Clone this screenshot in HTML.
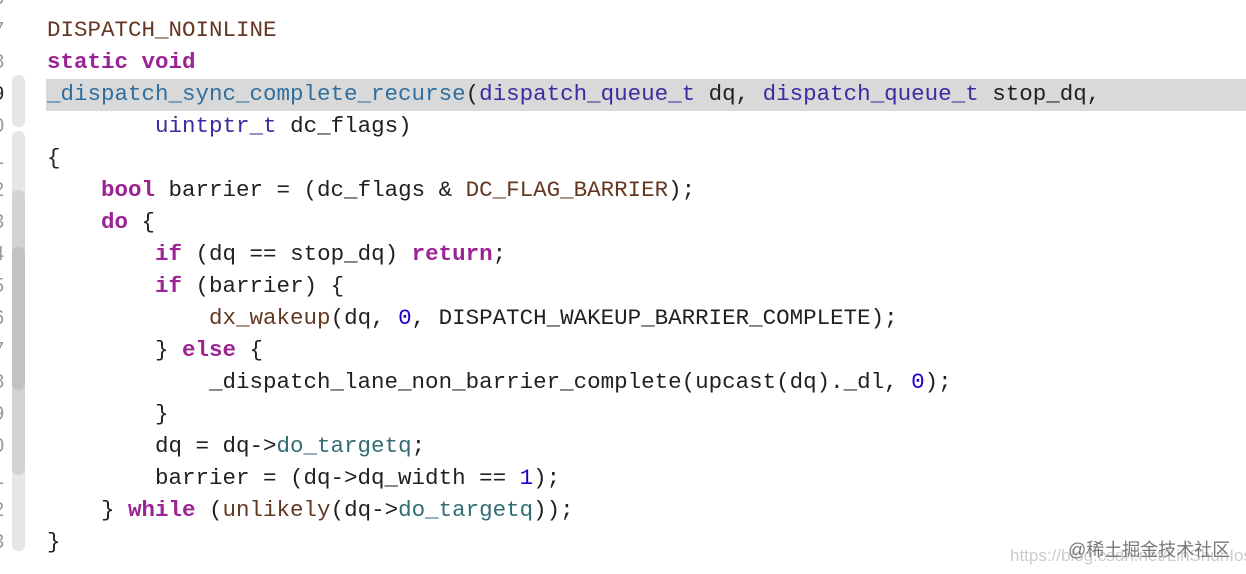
<!DOCTYPE html>
<html><head><meta charset="utf-8"><style>
body{margin:0;width:1246px;height:574px;background:#fff;position:relative;overflow:hidden;font-family:"Liberation Mono",monospace;}
.code{position:absolute;left:47px;top:14px;font-size:22.5px;line-height:32px;color:#1f1f24;white-space:pre;}
.hl{position:absolute;left:46px;top:79px;width:1200px;height:32px;background:#d9d9d9;}
.k{color:#9b2393;font-weight:bold}
.b{color:#643820}
.t{color:#3a2ba0}
.f{color:#2f6f9f}
.m{color:#326d74}
.n{color:#1c00cf}
.g{position:absolute;left:-7px;top:-18px;font-size:20px;line-height:32px;color:#999;font-family:"Liberation Sans",sans-serif;white-space:pre;}
.r{position:absolute;left:12px;width:13px;}
.wm{position:absolute;left:1068px;top:536px;font-size:18px;color:#777;font-family:"Liberation Sans","Noto Sans CJK SC",sans-serif;}
.wm2{position:absolute;left:1010px;top:546px;font-size:17px;color:#ccc;font-family:"Liberation Sans",sans-serif;}
</style></head><body>
<div class="hl"></div>
<div class="g">6
7
8
<span style="color:#222">9</span>
0
1
2
3
4
5
6
7
8
9
0
1
2
3</div>
<div class="r" style="top:75px;height:52px;background:#e6e6e6;border-radius:6px"></div>
<div class="r" style="top:131px;height:420px;background:#e6e6e6;border-radius:6px"></div>
<div class="r" style="top:190px;height:285px;background:#d3d3d3;border-radius:6px"></div>
<div class="r" style="top:247px;height:133px;background:#c2c2c2;border-radius:6px"></div>
<div class="r" style="top:320px;height:70px;background:#c2c2c2;border-radius:6px"></div>
<div class="wm2">https://blog.csdn.net/LinShunIos</div>
<div class="wm">@稀土掘金技术社区</div>
<div class="code"><span class="b">DISPATCH_NOINLINE</span>
<span class="k">static</span> <span class="k">void</span>
<span class="f">_dispatch_sync_complete_recurse</span>(<span class="t">dispatch_queue_t</span> dq, <span class="t">dispatch_queue_t</span> stop_dq,
        <span class="t">uintptr_t</span> dc_flags)
{
    <span class="k">bool</span> barrier = (dc_flags &amp; <span class="b">DC_FLAG_BARRIER</span>);
    <span class="k">do</span> {
        <span class="k">if</span> (dq == stop_dq) <span class="k">return</span>;
        <span class="k">if</span> (barrier) {
            <span class="b">dx_wakeup</span>(dq, <span class="n">0</span>, DISPATCH_WAKEUP_BARRIER_COMPLETE);
        } <span class="k">else</span> {
            _dispatch_lane_non_barrier_complete(upcast(dq)._dl, <span class="n">0</span>);
        }
        dq = dq-&gt;<span class="m">do_targetq</span>;
        barrier = (dq-&gt;dq_width == <span class="n">1</span>);
    } <span class="k">while</span> (<span class="b">unlikely</span>(dq-&gt;<span class="m">do_targetq</span>));
}</div>
</body></html>
